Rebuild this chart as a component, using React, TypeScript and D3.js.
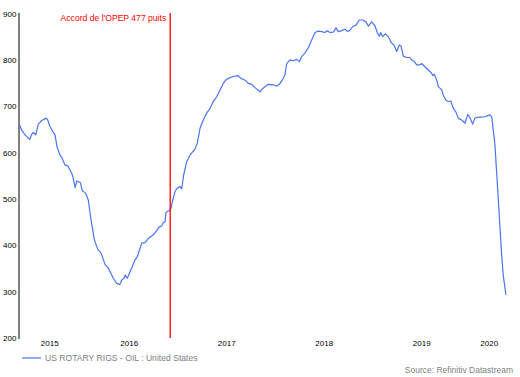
import React from "react";
import * as d3 from "d3";

const dates: number[] = [
  2015.376, 2015.397, 2015.431, 2015.479, 2015.499, 2015.516, 2015.541, 2015.567, 2015.602, 2015.649,
  2015.664, 2015.684, 2015.721, 2015.738, 2015.759, 2015.79, 2015.807, 2015.841, 2015.869, 2015.91,
  2015.926, 2015.944, 2015.961, 2015.998, 2016.018, 2016.053, 2016.08, 2016.108, 2016.142, 2016.176,
  2016.21, 2016.251, 2016.285, 2016.336, 2016.371, 2016.405, 2016.423, 2016.446, 2016.459, 2016.48,
  2016.525, 2016.559, 2016.583, 2016.628, 2016.662, 2016.695, 2016.747, 2016.782, 2016.808, 2016.833,
  2016.849, 2016.867, 2016.877, 2016.905, 2016.925, 2016.946, 2016.969, 2016.987, 2017.021, 2017.038,
  2017.058, 2017.089, 2017.123, 2017.174, 2017.198, 2017.226, 2017.259, 2017.294, 2017.328, 2017.362,
  2017.397, 2017.431, 2017.465, 2017.489, 2017.516, 2017.567, 2017.612, 2017.646, 2017.687, 2017.721,
  2017.756, 2017.79, 2017.841, 2017.865, 2017.892, 2017.926, 2017.977, 2018.012, 2018.046, 2018.08,
  2018.097, 2018.115, 2018.149, 2018.183, 2018.217, 2018.244, 2018.269, 2018.303, 2018.336, 2018.371,
  2018.405, 2018.439, 2018.474, 2018.508, 2018.531, 2018.559, 2018.593, 2018.621, 2018.644, 2018.679,
  2018.713, 2018.741, 2018.764, 2018.792, 2018.826, 2018.859, 2018.894, 2018.928, 2018.952, 2018.987,
  2019.021, 2019.044, 2019.065, 2019.079, 2019.099, 2019.126, 2019.157, 2019.192, 2019.215, 2019.243,
  2019.27, 2019.287, 2019.311, 2019.346, 2019.379, 2019.397, 2019.421, 2019.448, 2019.482, 2019.499,
  2019.533, 2019.567, 2019.602, 2019.612, 2019.629, 2019.654, 2019.67, 2019.705, 2019.721, 2019.746,
  2019.772, 2019.797, 2019.824, 2019.851, 2019.875, 2019.91, 2019.944, 2019.972, 2019.995, 2020.023,
  2020.046, 2020.08, 2020.115, 2020.149, 2020.172, 2020.2, 2020.218, 2020.234, 2020.251, 2020.268,
  2020.285, 2020.303, 2020.32, 2020.336, 2020.364,
];

const rigs: number[] = [
  660, 649, 639, 629, 640, 644, 639, 662, 670, 675,
  671, 658, 644, 640, 613, 595, 590, 574, 572, 556,
  545, 525, 539, 536, 518, 513, 498, 455, 412, 392,
  384, 359, 351, 329, 318, 316, 325, 329, 336, 329,
  351, 369, 376, 405, 406, 415, 423, 432, 440, 442,
  449, 451, 471, 475, 478, 498, 516, 523, 527, 522,
  552, 581, 595, 608, 621, 653, 671, 686, 696, 711,
  721, 736, 750, 757, 761, 765, 767, 761, 757, 750,
  748, 741, 732, 738, 743, 748, 747, 744, 750, 761,
  768, 793, 801, 799, 802, 797, 808, 816, 827, 844,
  860, 863, 862, 860, 864, 860, 861, 870, 862, 864,
  867, 862, 865, 873, 876, 887, 887, 883, 874, 883,
  874, 860, 852, 860, 851, 857, 851, 837, 833, 819,
  833, 831, 809, 806, 806, 801, 798, 790, 790, 793,
  786, 779, 772, 767, 770, 757, 743, 736, 725, 714,
  711, 712, 696, 688, 675, 671, 664, 683, 676, 662,
  675, 677, 677, 678, 680, 682, 678, 649, 617, 559,
  502, 437, 379, 336, 293,
];

const yTicks: number[] = [200, 300, 400, 500, 600, 700, 800, 900];
const years: number[] = [2015, 2016, 2017, 2018, 2019, 2020];
const opecDate = 2016.92;
const opecLabel = "Accord de l'OPEP 477 puits";
const seriesName = "US ROTARY RIGS - OIL : United States";
const sourceText = "Source: Refinitiv Datastream";

export default function App() {
  const W = 520;
  const H = 377;
  const x = d3.scaleLinear().domain([2015.369, 2020.385]).range([19, 508]);
  const y = d3.scaleLinear().domain([200, 900]).range([338, 14]);
  const pts: [number, number][] = dates.map((d, i) => [d, rigs[i]]);
  const line = d3
    .line<[number, number]>()
    .x((d) => x(d[0]))
    .y((d) => y(d[1]));
  const [d0, d1] = x.domain();
  const font = "'Liberation Sans', Arial, sans-serif";

  return (
    <svg width={W} height={H} style={{ position: "absolute", left: 0, top: 0, background: "#fff" }}>
      <rect x={0} y={0} width={W} height={H} fill="#fff" />
      {yTicks.map((t) => (
        <text key={t} x={3} y={y(t)} dy="0.35em" fontSize={8} fontFamily={font} fill="#000">
          {t}
        </text>
      ))}
      {years.map((yr) => {
        const a = Math.max(yr, d0);
        const b = Math.min(yr + 1, d1);
        const cx = (x(a) + x(b)) / 2;
        return (
          <text key={yr} x={cx} y={343} dy="0.35em" textAnchor="middle" fontSize={8} fontFamily={font} fill="#000">
            {yr}
          </text>
        );
      })}
      <line x1={19} x2={19} y1={13} y2={339} stroke="#808080" strokeWidth={2} />
      <path d={line(pts) || ""} fill="none" stroke="#4a74f5" strokeWidth={1.2} strokeLinejoin="round" />
      <line x1={x(opecDate)} x2={x(opecDate)} y1={13} y2={338} stroke="#ff0000" strokeWidth={1.3} />
      <text x={x(opecDate) - 4} y={18} dy="0.35em" textAnchor="end" fontSize={8.6} fontFamily={font} fill="#ff0000">
        {opecLabel}
      </text>
      <line x1={22} x2={41} y1={358} y2={358} stroke="#4a74f5" strokeWidth={1.2} />
      <text x={45} y={358} dy="0.35em" fontSize={8.6} fontFamily={font} fill="#808080">
        {seriesName}
      </text>
      <text x={513} y={370} dy="0.35em" textAnchor="end" fontSize={8.5} fontFamily={font} fill="#808080">
        {sourceText}
      </text>
    </svg>
  );
}
